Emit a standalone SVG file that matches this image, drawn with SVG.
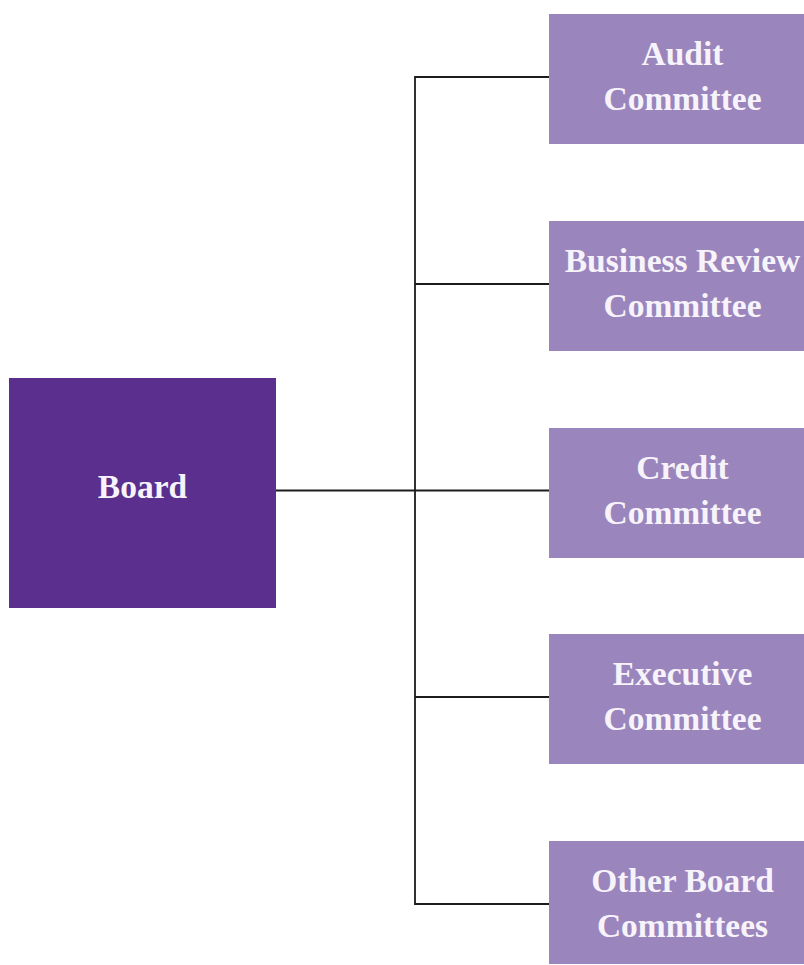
<svg xmlns="http://www.w3.org/2000/svg" width="804" height="965" viewBox="0 0 804 965">
  <style>
    .board { fill: #5b2f8e; }
    .committee { fill: #9b85bd; }
    .label { font-family: "Liberation Serif", "Times New Roman", serif; font-weight: bold; font-size: 33.5px; fill: #f7f3fa; text-anchor: middle; }
    .conn { stroke: #1c1c1c; stroke-width: 1.8; fill: none; }
  </style>
  <rect width="804" height="965" fill="#ffffff"/>

  <!-- org chart connectors -->
  <g id="connectors">
    <path class="conn" d="M276 490.5 H549"/>
    <path class="conn" d="M549 77 H415 V904 H549"/>
    <path class="conn" d="M415 284 H549"/>
    <path class="conn" d="M415 697 H549"/>
  </g>

  <g id="board">
    <rect class="board" x="9" y="378" width="267" height="230"/>
    <text class="label" x="142.5" y="498">Board</text>
  </g>

  <g id="audit-committee">
    <rect class="committee" x="549" y="14" width="267" height="130"/>
    <text class="label" x="682.5" y="65">Audit</text>
    <text class="label" x="682.5" y="110">Committee</text>
  </g>

  <g id="business-review-committee">
    <rect class="committee" x="549" y="221" width="267" height="130"/>
    <text class="label" x="682.5" y="272">Business Review</text>
    <text class="label" x="682.5" y="317">Committee</text>
  </g>

  <g id="credit-committee">
    <rect class="committee" x="549" y="428" width="267" height="130"/>
    <text class="label" x="682.5" y="479">Credit</text>
    <text class="label" x="682.5" y="524">Committee</text>
  </g>

  <g id="executive-committee">
    <rect class="committee" x="549" y="634" width="267" height="130"/>
    <text class="label" x="682.5" y="685">Executive</text>
    <text class="label" x="682.5" y="730">Committee</text>
  </g>

  <g id="other-board-committees">
    <rect class="committee" x="549" y="841" width="267" height="123"/>
    <text class="label" x="682.5" y="892">Other Board</text>
    <text class="label" x="682.5" y="937">Committees</text>
  </g>
</svg>
